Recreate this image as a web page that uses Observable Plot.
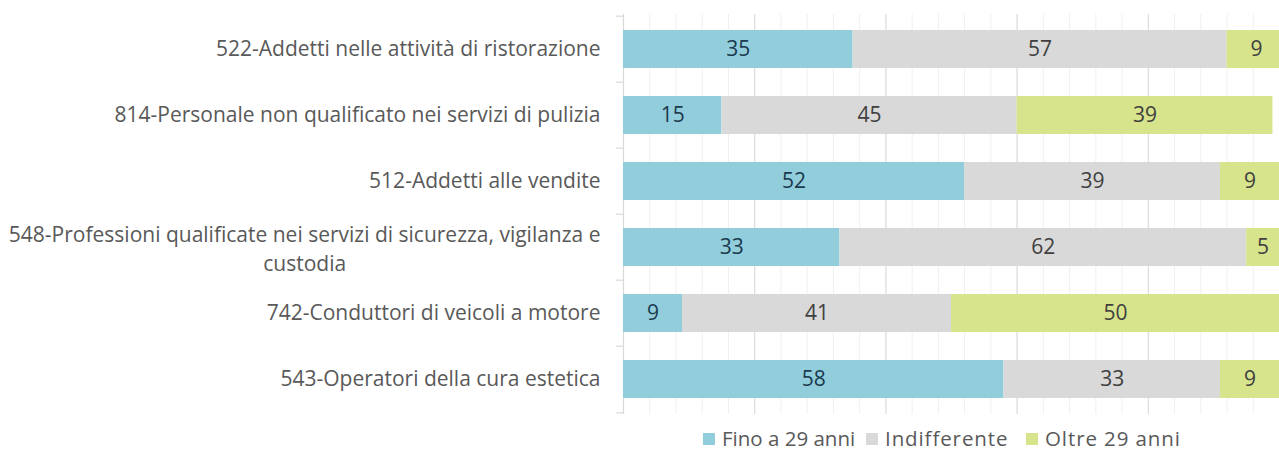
<!DOCTYPE html>
<html>
<head>
<meta charset="utf-8">
<script src="https://cdn.jsdelivr.net/npm/d3@7"></script>
<script src="https://cdn.jsdelivr.net/npm/@observablehq/plot@0.6"></script>
<style>
  html, body { margin: 0; padding: 0; background: #fff; }
  #chart { width: 1279px; }
  .legend { display: flex; align-items: center; font-family: "Open Sans", sans-serif; font-size: 20.5px; color: #595959; height: 28px; padding-left: 703px; }
  .legend .item { display: flex; align-items: center; }
  .legend .sw { width: 12px; height: 12px; margin-right: 7px; margin-top: 2px; }
</style>
</head>
<body>
<div id="chart"></div>
<script>
const categories = [
  "522-Addetti nelle attività di ristorazione",
  "814-Personale non qualificato nei servizi di pulizia",
  "512-Addetti alle vendite",
  "548-Professioni qualificate nei servizi di sicurezza, vigilanza e custodia",
  "742-Conduttori di veicoli a motore",
  "543-Operatori della cura estetica"
];
const tickLabels = [
  "522-Addetti nelle attività di ristorazione",
  "814-Personale non qualificato nei servizi di pulizia",
  "512-Addetti alle vendite",
  "548-Professioni qualificate nei servizi di sicurezza, vigilanza e\ncustodia",
  "742-Conduttori di veicoli a motore",
  "543-Operatori della cura estetica"
];
const series = ["Fino a 29 anni", "Indifferente", "Oltre 29 anni"];
const fino = [35, 15, 52, 33, 9, 58];
const indifferente = [57, 45, 39, 62, 41, 33];
const oltre = [9, 39, 9, 5, 50, 9];
const colors = ["#92CDDC", "#D9D9D9", "#D7E48C"];
const xMinorTicks = d3.range(0, 101, 4);
const xMajorTicks = [0, 20, 40, 60, 80, 100];

const data = [];
categories.forEach((c, i) => {
  data.push({cat: c, series: series[0], value: fino[i]});
  data.push({cat: c, series: series[1], value: indifferente[i]});
  data.push({cat: c, series: series[2], value: oltre[i]});
});

const font = "'Open Sans', sans-serif";
const fontSize = 21;
const W = 1279, H = 424, mt = 14, mb = 10, ml = 623, mr = 0;
const step = (H - mt - mb) / categories.length;

// measure label widths to centre wrapped lines like Excel
const ctx = document.createElement("canvas").getContext("2d");
ctx.font = `${fontSize}px ${font}`;
const labelInfo = categories.map((c, i) => {
  const lines = tickLabels[i].split("\n");
  const w = Math.max(...lines.map(l => ctx.measureText(l).width));
  return {cat: c, label: tickLabels[i], multi: lines.length > 1, w};
});

const chart = Plot.plot({
  width: W, height: H,
  marginTop: mt, marginBottom: mb, marginLeft: ml, marginRight: mr,
  style: {fontFamily: font, fontSize: fontSize + "px", background: "#fff"},
  x: {domain: [0, 100], axis: null},
  y: {domain: categories, paddingInner: 0.43, paddingOuter: 0.215, axis: null},
  color: {domain: series, range: colors},
  marks: [
    Plot.ruleX(xMinorTicks, {stroke: "#F0F0F0", strokeWidth: 1}),
    Plot.ruleX(xMajorTicks, {stroke: "#D9D9D9", strokeWidth: 1}),
    Plot.ruleX([0], {stroke: "#D9D9D9", strokeWidth: 1.2}),
    Plot.axisY({ticks: categories, tickSize: 7, label: null, tickFormat: () => "", stroke: "#D9D9D9", dy: -step / 2, strokeWidth: 1.2}),
    Plot.axisY({ticks: categories.slice(-1), tickSize: 7, label: null, tickFormat: () => "", stroke: "#D9D9D9", dy: step / 2, strokeWidth: 1.2}),
    Plot.barX(data, Plot.stackX({x: "value", y: "cat", fill: "series", clip: true})),
    Plot.text(data, Plot.stackX({x: "value", y: "cat", text: d => d.series === series[0] ? String(d.value) : "", fill: "#1B3A4E"})),
    Plot.text(data, Plot.stackX({x: "value", y: "cat", text: d => d.series !== series[0] ? String(d.value) : "", fill: "#404040"})),
    Plot.text(labelInfo.filter(d => !d.multi), {y: "cat", text: "label", frameAnchor: "left", textAnchor: "end", dx: -23, fill: "#595959"}),
    ...labelInfo.filter(d => d.multi).map(d =>
      Plot.text([d], {y: "cat", text: "label", frameAnchor: "left", textAnchor: "middle", dx: -23 - d.w / 2, lineHeight: 1.38, fill: "#595959"})
    )
  ]
});
document.getElementById("chart").appendChild(chart);

const legendItemWidths = [163, 160, 160];
const legend = document.createElement("div");
legend.className = "legend";
series.forEach((s, i) => {
  const item = document.createElement("div");
  item.className = "item";
  item.style.width = legendItemWidths[i] + "px";
  const sw = document.createElement("div");
  sw.className = "sw";
  sw.style.background = colors[i];
  const t = document.createElement("span");
  t.textContent = s;
  if (i > 0) t.style.letterSpacing = "0.9px";
  item.appendChild(sw); item.appendChild(t);
  legend.appendChild(item);
});
document.getElementById("chart").appendChild(legend);
</script>
</body>
</html>
